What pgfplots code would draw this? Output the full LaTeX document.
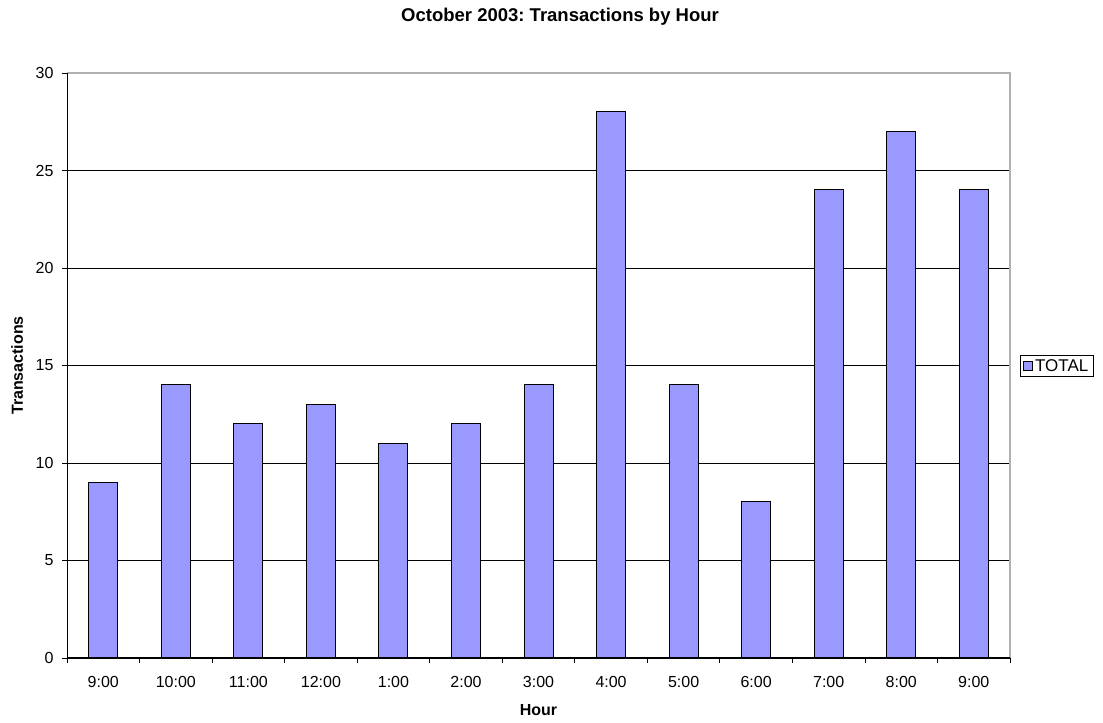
\documentclass[border=0pt]{standalone}
\usepackage{pgfplots}
\pgfplotsset{compat=1.18}
\usepackage{fontspec}
\setmainfont{Liberation Sans}
\frenchspacing
\definecolor{barfill}{HTML}{9999FF}
\definecolor{frame}{HTML}{B0B0B0}
\begin{document}
\begin{tikzpicture}
\begin{axis}[
  scale only axis,
  width=943pt, height=585pt,
  xmin=-0.5, xmax=12.5,
  ymin=0, ymax=30,
  ytick={0,5,...,30},
  xtick={0,...,12},
  xticklabels={9:00,10:00,11:00,12:00,1:00,2:00,3:00,4:00,5:00,6:00,7:00,8:00,9:00},
  major x tick style={draw=none},
  minor xtick={-0.5,0.5,...,12.5},
  minor tick length=5pt,
  major tick length=5pt,
  tick align=outside,
  tick pos=left,
  ymajorgrids,
  grid style={black, line width=0.8pt},
  axis line style={draw=none},
  tick style={black, line width=0.8pt},
  ticklabel style={font=\fontsize{16}{18}\selectfont},
  /pgf/number format/assume math mode=true,
  xticklabel style={yshift=-10pt},
  yticklabel style={xshift=-5pt},
  xlabel={\bfseries Hour},
  ylabel={\bfseries Transactions},
  label style={font=\fontsize{16}{18}\selectfont},
  xlabel style={at={(rel axis cs:0.5,-0.0889)}, anchor=center},
  ylabel style={at={(rel axis cs:-0.053,0.5)}, anchor=center},
  clip=false,
  legend style={at={(rel axis cs:1.0106,0.499)}, anchor=west, draw=black, line width=0.6pt,
    font=\fontsize{17}{19}\selectfont, inner xsep=3pt, inner ysep=2pt, row sep=0pt},
  legend image code/.code={\draw[#1, line width=0.8pt] (0pt,-4.5pt) rectangle (9pt,4.5pt);},
]
\draw[frame, line width=1.5pt] (rel axis cs:0,1) -- (rel axis cs:1,1) -- (rel axis cs:1,0);
\draw[black, line width=1pt] (rel axis cs:0,1) -- (rel axis cs:0,0) -- (rel axis cs:1,0);
\addplot[ybar, bar width=29pt, fill=barfill, draw=black, line width=1pt] coordinates {
(0,9) (1,14) (2,12) (3,13) (4,11) (5,12) (6,14) (7,28) (8,14) (9,8) (10,24) (11,27) (12,24)};
\addlegendentry{TOTAL}
\path (rel axis cs:-0.0711,-0.1111) rectangle (rel axis cs:1.0986,1.1248);
\node[font=\fontsize{18.5}{20}\selectfont\bfseries] at (rel axis cs:0.5228,1.0957) {October 2003: Transactions by Hour};
\end{axis}
\end{tikzpicture}
\end{document}
